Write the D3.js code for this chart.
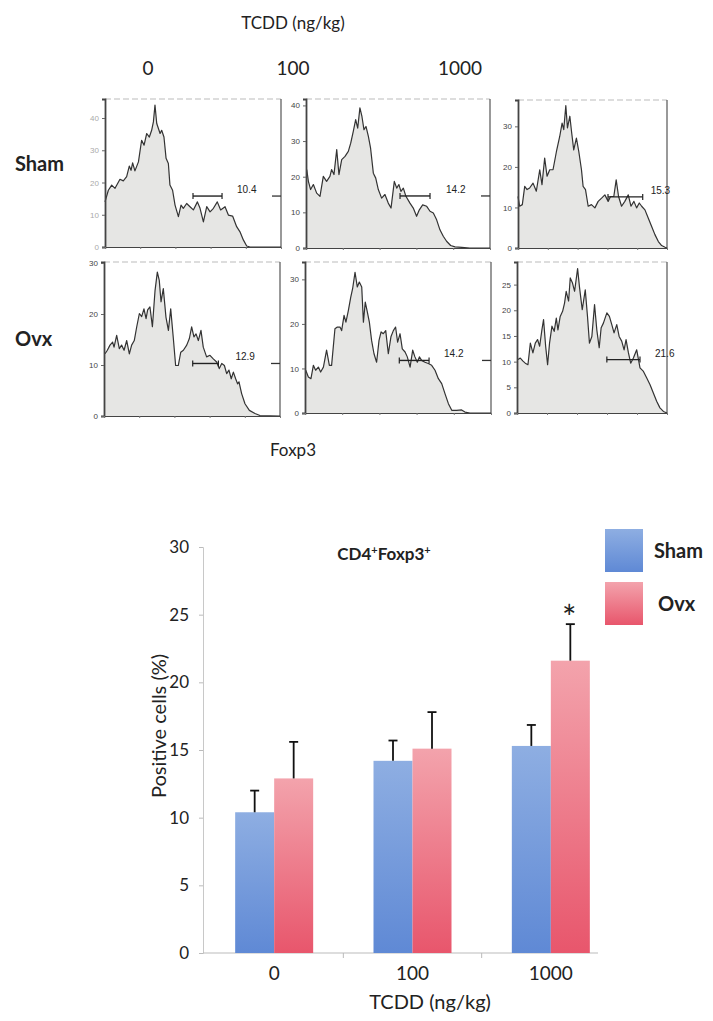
<!DOCTYPE html>
<html>
<head>
<meta charset="utf-8">
<script src="https://cdn.jsdelivr.net/npm/d3@7"></script>
<style>
body { margin: 0; background: #fff; }
svg { display: block; }
</style>
</head>
<body>
<svg id="chart" width="713" height="1021"></svg>
<script>
// ---- data ----
var doses = ["0", "100", "1000"];
var treatments = ["Sham", "Ovx"];

// Foxp3 histograms: [channel (% of axis), cell count]
var histSham0 = [[0,14.0],[1.9,17.6],[3.8,19.2],[5.7,18.2],[8.5,21.0],[10.4,20.5],[12.3,21.8],[13.8,25.1],[14.8,23.8],[15.7,26.1],[17.0,23.6],[19.0,26.4],[20.8,33.1],[22.2,31.6],[23.7,35.2],[25.2,34.1],[26.5,36.2],[27.5,38.8],[28.4,44.0],[29.4,38.3],[31.3,35.2],[32.2,36.2],[33.5,34.1],[34.7,27.5],[36.0,25.9],[36.9,19.2],[38.4,17.6],[39.8,13.0],[41.7,9.4],[43.2,13.0],[44.5,12.0],[46.4,13.5],[48.3,12.5],[50.2,11.5],[52.5,14.0],[54.0,12.0],[55.9,7.8],[57.8,12.5],[59.7,10.9],[61.6,12.0],[63.8,14.0],[65.7,11.5],[68.2,12.5],[70.1,9.9],[72.5,9.6],[74.8,6.3],[76.7,4.7],[78.6,2.2],[80.5,0.3],[82.4,0],[100,0]];
var histSham100 = [[0.4,22.0],[1.3,18.7],[2.5,16.4],[4.0,17.8],[5.8,15.4],[7.6,14.5],[9.4,20.1],[11.2,18.7],[13.0,20.1],[13.9,22.0],[15.2,20.6],[16.7,27.6],[17.9,20.6],[19.4,24.8],[21.2,25.7],[23.0,27.1],[24.3,29.4],[25.7,32.7],[27.0,36.0],[28.1,33.6],[29.3,39.3],[30.4,36.9],[31.5,33.2],[32.6,34.1],[33.9,31.3],[35.1,28.0],[36.6,21.0],[37.9,19.6],[39.3,16.4],[41.1,14.0],[42.9,15.0],[44.7,12.6],[46.2,11.2],[48.0,18.7],[49.3,16.8],[50.5,17.8],[51.6,15.9],[52.9,16.8],[54.3,14.5],[56.5,12.6],[58.3,11.2],[60.1,8.9],[61.6,10.7],[63.4,12.1],[65.6,11.7],[67.4,10.3],[69.2,9.8],[71.0,7.9],[72.8,5.1],[74.6,3.3],[76.4,1.9],[78.6,0.7],[81.0,0.3],[84.6,0.2],[89.1,0],[100,0]];
var histSham1000 = [[0,12.7],[1.1,10.3],[2.9,10.7],[4.5,15.2],[6.1,14.4],[7.8,14.8],[10.1,16.0],[12.3,14.0],[14.6,19.3],[16.1,15.6],[17.9,22.2],[19.5,17.7],[21.3,19.3],[23.5,19.3],[25.8,23.8],[28.0,27.5],[29.6,30.8],[30.7,29.2],[32.1,35.1],[33.2,29.6],[34.8,32.5],[35.9,28.8],[37.4,24.2],[39.2,27.1],[40.8,23.8],[42.6,19.3],[43.7,15.2],[45.3,14.4],[47.1,10.3],[49.3,10.7],[51.6,9.9],[53.8,11.5],[56.1,12.3],[58.3,13.1],[60.5,11.5],[62.1,12.7],[64.3,12.7],[65.9,16.8],[67.5,12.7],[69.5,10.3],[71.7,11.5],[74.0,13.1],[75.8,10.3],[77.8,11.5],[79.6,9.9],[81.4,11.1],[83.0,10.3],[85.2,9.4],[87.4,7.4],[89.7,5.3],[91.9,3.3],[94.2,1.6],[96.4,0.6],[98.7,0.2],[100,0]];
var histOvx0 = [[0.6,12.2],[1.9,12.9],[3.4,13.9],[4.9,14.5],[5.7,13.5],[7.2,15.8],[8.7,13.2],[10.0,13.9],[11.4,12.9],[12.9,14.8],[14.4,12.2],[15.7,13.9],[17.2,14.8],[18.6,17.5],[20.1,20.1],[21.4,19.5],[22.7,21.0],[23.9,19.1],[24.8,20.8],[26.1,21.4],[27.5,17.5],[29.0,24.6],[30.3,28.2],[31.4,26.6],[32.4,22.4],[33.7,25.0],[35.2,19.4],[36.6,16.8],[37.9,21.0],[39.4,15.2],[40.7,9.9],[42.2,9.9],[43.6,12.5],[45.1,12.9],[47.0,13.9],[48.5,15.2],[49.8,17.5],[51.1,15.5],[52.3,16.1],[53.6,14.8],[55.1,16.8],[56.4,13.5],[58.3,11.6],[60.2,11.9],[62.1,11.2],[64.0,10.6],[65.5,9.3],[66.9,10.3],[68.4,9.9],[69.7,8.3],[71.0,9.0],[72.3,7.3],[73.5,8.6],[74.8,7.3],[75.9,6.3],[76.7,6.7],[78.2,4.4],[80.1,2.4],[82.6,1.1],[85.8,0.5],[88.6,0.1],[100,0]];
var histOvx100 = [[0.4,9.6],[1.8,8.1],[3.2,7.7],[4.5,10.7],[5.7,9.6],[7.2,10.3],[8.4,9.2],[9.9,10.3],[11.6,14.1],[13.1,10.7],[14.3,10.7],[16.1,18.9],[17.4,19.3],[18.8,19.3],[19.7,18.5],[21.0,21.9],[22.0,20.4],[23.3,23.0],[24.6,26.0],[25.6,27.9],[26.9,31.6],[28.1,28.3],[29.2,29.4],[30.5,28.3],[31.4,20.4],[32.4,24.9],[33.5,22.7],[34.6,20.4],[35.8,16.3],[37.1,13.3],[38.5,11.4],[39.8,16.3],[40.9,18.2],[42.1,17.8],[43.4,18.5],[44.8,13.3],[46.2,17.1],[47.5,18.5],[48.7,19.3],[49.8,15.9],[51.1,17.8],[52.3,14.4],[53.8,13.7],[55.0,12.6],[56.5,10.3],[57.9,14.1],[59.1,12.6],[60.4,11.4],[61.5,12.6],[62.7,11.8],[64.5,11.4],[66.3,11.1],[68.1,10.7],[69.9,9.6],[71.7,7.7],[73.5,6.6],[75.3,4.3],[77.1,2.1],[78.9,0.6],[81.5,0.6],[84.2,0.7],[86.0,0.2],[88.7,0],[100,0]];
var histOvx1000 = [[0.7,10.4],[2.2,10.7],[4.0,10.1],[5.5,9.7],[7.3,9.4],[8.9,13.6],[10.6,11.7],[12.2,13.6],[13.7,14.3],[15.1,13.0],[16.6,16.2],[17.7,18.2],[19.1,13.0],[20.4,9.4],[21.7,13.6],[23.3,16.9],[24.8,15.9],[26.2,18.5],[27.3,16.2],[28.8,18.8],[30.4,19.8],[31.7,21.4],[32.8,23.7],[34.4,21.8],[35.5,26.3],[37.0,25.3],[38.4,23.7],[40.4,28.1],[41.7,24.4],[43.5,20.1],[45.5,24.0],[47.0,18.8],[48.3,13.6],[49.9,14.9],[51.7,21.1],[53.2,16.2],[54.8,12.7],[56.1,16.6],[57.6,17.5],[59.9,19.5],[61.6,18.8],[63.2,17.2],[64.7,15.6],[66.5,17.2],[68.1,14.9],[69.8,14.0],[71.4,12.3],[72.7,14.3],[74.3,11.7],[75.8,9.7],[77.6,10.7],[79.8,12.3],[82.0,8.8],[84.3,8.1],[86.5,6.8],[88.7,5.5],[90.9,3.9],[93.1,2.3],[95.3,1.0],[97.6,0.3],[100,0]];

// gates: [start, end, level] and the percentage printed beside them
var gateSham0 = [50.0, 66.5, 15.8];
var gateSham100 = [51.1, 67.4, 14.6];
var gateSham1000 = [60.4, 83.7, 12.6];
var gateOvx0 = [50.4, 65.0, 10.3];
var gateOvx100 = [50.7, 66.7, 11.8];
var gateOvx1000 = [59.9, 82.0, 10.4];
var gateLabels = ["10.4", "14.2", "15.3", "12.9", "14.2", "21.6"];

// bar chart: CD4+Foxp3+ positive cells (%)
var shamMean = [10.4, 14.2, 15.3];
var shamErr = [1.6, 1.5, 1.55];
var ovxMean = [12.9, 15.1, 21.6];
var ovxErr = [2.7, 2.7, 2.7];
var ovxSignif = [false, false, true];
var barTicks = [0, 5, 10, 15, 20, 25, 30];

// ---- layout ----
var font = "Lato, 'Open Sans', sans-serif";
var svg = d3.select('#chart');

var panels = [
    { hist: histSham0, gate: gateSham0, ticks: [0, 10, 20, 30, 40], x0: 105, x1: 281, yb: 247, yt: 99, ymax: 45.9, dx: 15, rtick: true, faint: true },
    { hist: histSham100, gate: gateSham100, ticks: [0, 10, 20, 30, 40], x0: 306, x1: 490, yb: 248, yt: 99, ymax: 41.8, dx: 16, rtick: true },
    { hist: histSham1000, gate: gateSham1000, ticks: [0, 10, 20, 30], x0: 518, x1: 667, yb: 248, yt: 100, ymax: 36.5, dx: 8, rtick: false },
    { hist: histOvx0, gate: gateOvx0, ticks: [0, 10, 20, 30], x0: 104, x1: 280, yb: 416, yt: 262, ymax: 30.2, dx: 17, rtick: true },
    { hist: histOvx100, gate: gateOvx100, ticks: [0, 10, 20, 30], x0: 305, x1: 491, yb: 413, yt: 262, ymax: 33.9, dx: 15, rtick: true },
    { hist: histOvx1000, gate: gateOvx1000, ticks: [0, 5, 10, 15, 20, 25], x0: 517, x1: 667, yb: 413, yt: 262, ymax: 29.4, dx: 15, rtick: false }
];

// headings of the histogram grid
svg.append('text').attr('x', 293).attr('y', 29).attr('text-anchor', 'middle')
    .style('font', '17px ' + font).attr('fill', '#222').text('TCDD (ng/kg)');

var colX = [148, 293, 460];
doses.forEach(function (d, i) {
    svg.append('text').attr('x', colX[i]).attr('y', 75).attr('text-anchor', 'middle')
        .style('font', '19px ' + font).attr('fill', '#222').text(d);
});

svg.append('text').attr('x', 15).attr('y', 171).style('font', 'bold 20px ' + font).attr('fill', '#222').text('Sham');
svg.append('text').attr('x', 15).attr('y', 346).style('font', 'bold 20px ' + font).attr('fill', '#222').text('Ovx');
svg.append('text').attr('x', 293).attr('y', 456).attr('text-anchor', 'middle')
    .style('font', '17px ' + font).attr('fill', '#222').text('Foxp3');

// histograms
panels.forEach(function (p, i) {
    var x = d3.scaleLinear().domain([0, 100]).range([p.x0, p.x1]);
    var y = d3.scaleLinear().domain([0, p.ymax]).range([p.yb, p.yt]);
    var logX = d3.scaleLog().domain([1, 1e5]).range([p.x0, p.x1]);
    var g = svg.append('g').attr('class', 'hist');

    var area = d3.area()
        .x(function (d) { return x(d[0]); })
        .y0(p.yb)
        .y1(function (d) { return y(d[1]); });
    var line = d3.line()
        .x(function (d) { return x(d[0]); })
        .y(function (d) { return y(d[1]); });

    g.append('path').datum(p.hist).attr('d', area).attr('fill', '#e6e6e4');

    // frame
    g.append('line').attr('x1', p.x0).attr('x2', p.x1).attr('y1', p.yt).attr('y2', p.yt)
        .attr('stroke', '#bbb').attr('stroke-width', 1).attr('stroke-dasharray', '6,3');
    g.append('line').attr('x1', p.x1).attr('x2', p.x1).attr('y1', p.yt).attr('y2', p.yb)
        .attr('stroke', '#555').attr('stroke-width', 1.2);
    if (p.rtick) {
        g.append('line').attr('x1', p.x1 - 9).attr('x2', p.x1).attr('y1', y(p.gate[2])).attr('y2', y(p.gate[2]))
            .attr('stroke', '#333').attr('stroke-width', 1.3);
    }

    g.append('path').datum(p.hist).attr('d', line)
        .attr('fill', 'none').attr('stroke', '#333').attr('stroke-width', 1.2).attr('stroke-linejoin', 'round');

    // left axis
    var yAxis = g.append('g').attr('transform', 'translate(' + p.x0 + ',0)')
        .call(d3.axisLeft(y).tickValues(p.ticks).tickSize(3).tickPadding(3));
    yAxis.select('.domain').attr('stroke', '#444').attr('stroke-width', 1.8);
    yAxis.selectAll('.tick line').attr('stroke', '#666');
    yAxis.selectAll('text').style('font', "8px 'Liberation Sans', sans-serif").attr('fill', p.faint ? '#aaa' : '#444');

    // bottom axis (log decades, unlabeled)
    var xAxis = g.append('g').attr('transform', 'translate(0,' + p.yb + ')')
        .call(d3.axisBottom(logX).ticks(5).tickFormat('').tickSizeInner(2).tickSizeOuter(0));
    xAxis.select('.domain').attr('stroke', '#444').attr('stroke-width', 1.2);
    xAxis.selectAll('.tick line').attr('stroke', '#777');

    // gate marker
    var gy = y(p.gate[2]);
    g.append('line').attr('x1', x(p.gate[0])).attr('x2', x(p.gate[1])).attr('y1', gy).attr('y2', gy)
        .attr('stroke', '#222').attr('stroke-width', 1.4);
    [p.gate[0], p.gate[1]].forEach(function (v) {
        g.append('line').attr('x1', x(v)).attr('x2', x(v)).attr('y1', gy - 3).attr('y2', gy + 3)
            .attr('stroke', '#222').attr('stroke-width', 1.2);
    });
    g.append('text').attr('x', x(p.gate[1]) + p.dx).attr('y', gy - 3)
        .style('font', "10px 'Liberation Sans', sans-serif").attr('fill', '#222').text(gateLabels[i]);
});

// ---- bar chart ----
var defs = svg.append('defs');
function gradient(id, top, bottom) {
    var lg = defs.append('linearGradient').attr('id', id)
        .attr('x1', 0).attr('y1', 0).attr('x2', 0).attr('y2', 1);
    lg.append('stop').attr('offset', '0%').attr('stop-color', top);
    lg.append('stop').attr('offset', '100%').attr('stop-color', bottom);
}
gradient('gSham', '#8eaee2', '#5f89d5');
gradient('gOvx', '#f3a3ac', '#e8566c');

var fills = { Sham: 'url(#gSham)', Ovx: 'url(#gOvx)' };
var means = { Sham: shamMean, Ovx: ovxMean };
var errs = { Sham: shamErr, Ovx: ovxErr };

var bx = d3.scaleBand().domain(doses).range([205, 620]);
var inner = d3.scaleBand().domain(treatments).range([-39, 39]);
var by = d3.scaleLinear().domain([0, 30]).range([953, 547]);

var chart = svg.append('g').attr('class', 'bars');

var yAxisBar = chart.append('g').attr('transform', 'translate(203,0)')
    .call(d3.axisLeft(by).tickValues(barTicks).tickSize(4).tickPadding(10));
yAxisBar.select('.domain').attr('stroke', '#c8c8c8');
yAxisBar.selectAll('.tick line').attr('stroke', '#bbb');
yAxisBar.selectAll('text').style('font', '17px ' + font).attr('fill', '#222');

// x axis baseline with ticks between groups
chart.append('line').attr('x1', 203).attr('x2', 598).attr('y1', 953).attr('y2', 953)
    .attr('stroke', '#bbb');
[bx('100'), bx('1000')].forEach(function (v) {
    chart.append('line').attr('x1', v).attr('x2', v).attr('y1', 953).attr('y2', 958).attr('stroke', '#bbb');
});

doses.forEach(function (d, i) {
    var cx = bx(d) + bx.bandwidth() / 2;
    treatments.forEach(function (t) {
        var v = means[t][i];
        var left = cx + inner(t);
        var mid = left + inner.bandwidth() / 2;
        chart.append('rect')
            .attr('x', left).attr('y', by(v))
            .attr('width', inner.bandwidth()).attr('height', by(0) - by(v))
            .attr('fill', fills[t]);
        var top = by(v + errs[t][i]);
        chart.append('line').attr('x1', mid).attr('x2', mid).attr('y1', by(v)).attr('y2', top)
            .attr('stroke', '#111').attr('stroke-width', 1.8);
        chart.append('line').attr('x1', mid - 4.5).attr('x2', mid + 4.5).attr('y1', top).attr('y2', top)
            .attr('stroke', '#111').attr('stroke-width', 1.8);
        if (t === 'Ovx' && ovxSignif[i]) {
            chart.append('text').attr('x', mid - 1).attr('y', top + 6).attr('text-anchor', 'middle')
                .style('font', '34px ' + font).attr('fill', '#222').text('*');
        }
    });
    chart.append('text').attr('x', cx).attr('y', 980).attr('text-anchor', 'middle')
        .style('font', '19px ' + font).attr('fill', '#222').text(d);
});

chart.append('text').attr('x', 430).attr('y', 1009).attr('text-anchor', 'middle')
    .style('font', '20px ' + font).attr('fill', '#222').text('TCDD (ng/kg)');

chart.append('text').attr('transform', 'translate(166,726) rotate(-90)').attr('text-anchor', 'middle')
    .style('font', '20px ' + font).attr('fill', '#222').text('Positive cells (%)');

// title with superscripts
var title = chart.append('text').attr('x', 384).attr('y', 560).attr('text-anchor', 'middle')
    .style('font', 'bold 17px ' + font).attr('fill', '#222');
title.append('tspan').text('CD4');
title.append('tspan').attr('dy', -6).style('font-size', '11px').text('+');
title.append('tspan').attr('dy', 6).text('Foxp3');
title.append('tspan').attr('dy', -6).style('font-size', '11px').text('+');

// legend
var legend = chart.append('g').attr('class', 'legend');
treatments.forEach(function (t, i) {
    var ly = 529 + i * 53;
    legend.append('rect').attr('x', 605).attr('y', ly).attr('width', 38).attr('height', 43)
        .attr('fill', fills[t]);
    legend.append('text').attr('x', 654 + i * 4).attr('y', ly + 29)
        .style('font', 'bold 20px ' + font).attr('fill', '#222').text(t);
});
</script>
</body>
</html>
